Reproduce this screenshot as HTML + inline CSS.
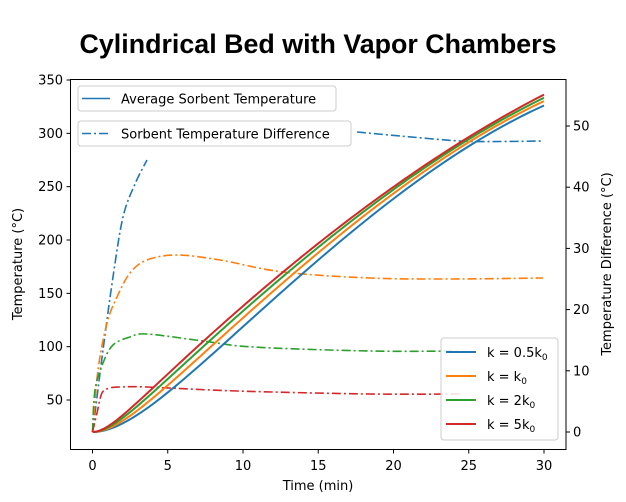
<!DOCTYPE html>
<html><head><meta charset="utf-8"><style>
html,body{margin:0;padding:0;background:#fff;}
svg{display:block;font-family:"DejaVu Sans","Liberation Sans",sans-serif;}
</style></head><body>
<svg id="s" width="626" height="502" viewBox="0 0 626 502" xmlns="http://www.w3.org/2000/svg">
<rect width="626" height="502" fill="#fff"/>
<text x="318" y="53" text-anchor="middle" font-family="Liberation Sans, sans-serif" font-weight="bold" font-size="27" textLength="477" lengthAdjust="spacingAndGlyphs" fill="#000">Cylindrical Bed with Vapor Chambers</text>
<defs><clipPath id="c"><rect x="70.5" y="79.5" width="495.5" height="370"/></clipPath></defs>
<g id="plot" clip-path="url(#c)" fill="none" stroke-width="2"></g>
<rect x="70.5" y="79.5" width="495.5" height="370" fill="none" stroke="#000" stroke-width="1"/>
<g id="ax" font-size="13" fill="#000"></g>
<text x="318" y="490" text-anchor="middle" font-size="13">Time (min)</text>
<text transform="translate(22,264) rotate(-90)" text-anchor="middle" font-size="13">Temperature (°C)</text>
<text transform="translate(611,264) rotate(-90)" text-anchor="middle" font-size="13">Temperature Difference (°C)</text>
<g font-size="13">
<rect x="78" y="86" width="258" height="25" rx="3" fill="#fff" fill-opacity="0.85" stroke="#ccc"/>
<line x1="82" y1="98.5" x2="110" y2="98.5" stroke="#1f77b4" stroke-width="1.6"/>
<text x="121" y="103.5">Average Sorbent Temperature</text>
<rect x="78" y="121" width="273" height="25" rx="3" fill="#fff" fill-opacity="0.85" stroke="#ccc"/>
<line x1="82" y1="133.5" x2="110" y2="133.5" stroke="#1f77b4" stroke-width="1.6" stroke-dasharray="9,3,2,3"/>
<text x="121" y="138.5">Sorbent Temperature Difference</text>
<rect x="441" y="338" width="117" height="102" rx="3" fill="#fff" fill-opacity="0.85" stroke="#ccc"/>
<line x1="446" y1="352" x2="476" y2="352" stroke="#1f77b4" stroke-width="2"/>
<text x="487" y="357">k = 0.5k<tspan font-size="9" dy="3">0</tspan></text>
<line x1="446" y1="376" x2="476" y2="376" stroke="#ff7f0e" stroke-width="2"/>
<text x="487" y="381">k = k<tspan font-size="9" dy="3">0</tspan></text>
<line x1="446" y1="400" x2="476" y2="400" stroke="#2ca02c" stroke-width="2"/>
<text x="487" y="405">k = 2k<tspan font-size="9" dy="3">0</tspan></text>
<line x1="446" y1="424" x2="476" y2="424" stroke="#d62728" stroke-width="2"/>
<text x="487" y="429">k = 5k<tspan font-size="9" dy="3">0</tspan></text>
</g>
</svg>
<script>
var NS="http://www.w3.org/2000/svg";
function X(t){return 92.5+15.05*t;}
function Y(v){return 80+(350-v)*1.0667;}
function el(p,tag,a){var e=document.createElementNS(NS,tag);for(var k in a)e.setAttribute(k,a[k]);p.appendChild(e);return e;}
function cr(pts){var d="M"+pts[0][0]+","+pts[0][1];for(var i=0;i<pts.length-1;i++){var p0=pts[i-1]||pts[i],p1=pts[i],p2=pts[i+1],p3=pts[i+2]||p2;
d+=" C"+(p1[0]+(p2[0]-p0[0])/6)+","+(p1[1]+(p2[1]-p0[1])/6)+" "+(p2[0]-(p3[0]-p1[0])/6)+","+(p2[1]-(p3[1]-p1[1])/6)+" "+p2[0]+","+p2[1];}return d;}
var g=document.getElementById("plot");
var DD="9,3,2,3";
el(g,"path",{d:cr([[92.5,432],[95,413],[103,350],[113,277],[123,217],[135,184],[147,160]]),stroke:"#1f77b4","stroke-width":1.6,"stroke-dasharray":DD});
el(g,"path",{d:cr([[357,132],[400,136],[460,141],[500,141.5],[543,141]]),stroke:"#1f77b4","stroke-width":1.6,"stroke-dasharray":DD});
el(g,"path",{d:cr([[92.5,432],[98,370],[107,323],[117,297],[130,273],[147,260],[177,255],[220,260],[283,272],[370,278],[450,279],[543,278]]),stroke:"#ff7f0e","stroke-width":1.6,"stroke-dasharray":DD});
el(g,"path",{d:cr([[92.5,432],[95,390],[103,363],[113,345],[130,337],[147,334],[203,341],[253,347],[370,351],[460,351]]),stroke:"#2ca02c","stroke-width":1.6,"stroke-dasharray":DD});
el(g,"path",{d:cr([[92.5,432],[97,413],[102,393],[110,388],[120,387],[147,387],[237,391],[370,394],[460,394]]),stroke:"#d62728","stroke-width":1.6,"stroke-dasharray":DD});
// solid: least-squares fit T=20+S*g(t)+q*t^2+r*t^3
function solve3(A,b){var M=A.map(function(r,i){return r.concat([b[i]]);});
for(var i=0;i<3;i++){var p=i;for(var j=i+1;j<3;j++)if(Math.abs(M[j][i])>Math.abs(M[p][i]))p=j;var t=M[i];M[i]=M[p];M[p]=t;
for(var j=0;j<3;j++)if(j!=i){var f=M[j][i]/M[i][i];for(var k=i;k<4;k++)M[j][k]-=f*M[i][k];}}
return [M[0][3]/M[0][0],M[1][3]/M[1][1],M[2][3]/M[2][2]];}
function curve(tau,data,color){
 function gf(t){return t-tau*(1-Math.exp(-t/tau));}
 var A=[[0,0,0],[0,0,0],[0,0,0]],b=[0,0,0];
 data.forEach(function(d){var f=[gf(d[0]),d[0]*d[0],d[0]*d[0]*d[0]],y=d[1]-20;
  for(var i=0;i<3;i++){b[i]+=f[i]*y;for(var j=0;j<3;j++)A[i][j]+=f[i]*f[j];}});
 var c=solve3(A,b);var pts=[];
 for(var t=0;t<=30.001;t+=0.25){var v=20+c[0]*gf(t)+c[1]*t*t+c[2]*t*t*t;pts.push(X(t).toFixed(2)+","+Y(v).toFixed(2));}
 el(g,"polyline",{points:pts.join(" "),stroke:color});}
curve(2.6,[[3.86,47.2],[10,117.5],[18.5,222.5],[25,288],[30,326]],"#1f77b4");
curve(1.8,[[3.86,53.8],[10,125],[18.5,228.1],[25,292],[30,330]],"#ff7f0e");
curve(1.3,[[3.86,58.4],[10,131.6],[18.5,231.9],[25,295],[30,333]],"#2ca02c");
curve(1.0,[[3.86,62.2],[10,136.3],[18.5,234.7],[25,297],[30,336]],"#d62728");
var ax=document.getElementById("ax");
for(var k=0;k<=6;k++){var x=X(5*k);el(ax,"line",{x1:x,y1:449.5,x2:x,y2:453.5,stroke:"#000"});el(ax,"text",{x:x,y:470,"text-anchor":"middle"}).textContent=5*k;}
for(var v=50;v<=350;v+=50){var y=Y(v);el(ax,"line",{x1:66.5,y1:y,x2:70.5,y2:y,stroke:"#000"});el(ax,"text",{x:63,y:y+4.5,"text-anchor":"end"}).textContent=v;}
for(var v=0;v<=50;v+=10){var y=432-v*6.12;el(ax,"line",{x1:566,y1:y,x2:570,y2:y,stroke:"#000"});el(ax,"text",{x:573,y:y+4.5}).textContent=v;}
</script>
</body></html>
